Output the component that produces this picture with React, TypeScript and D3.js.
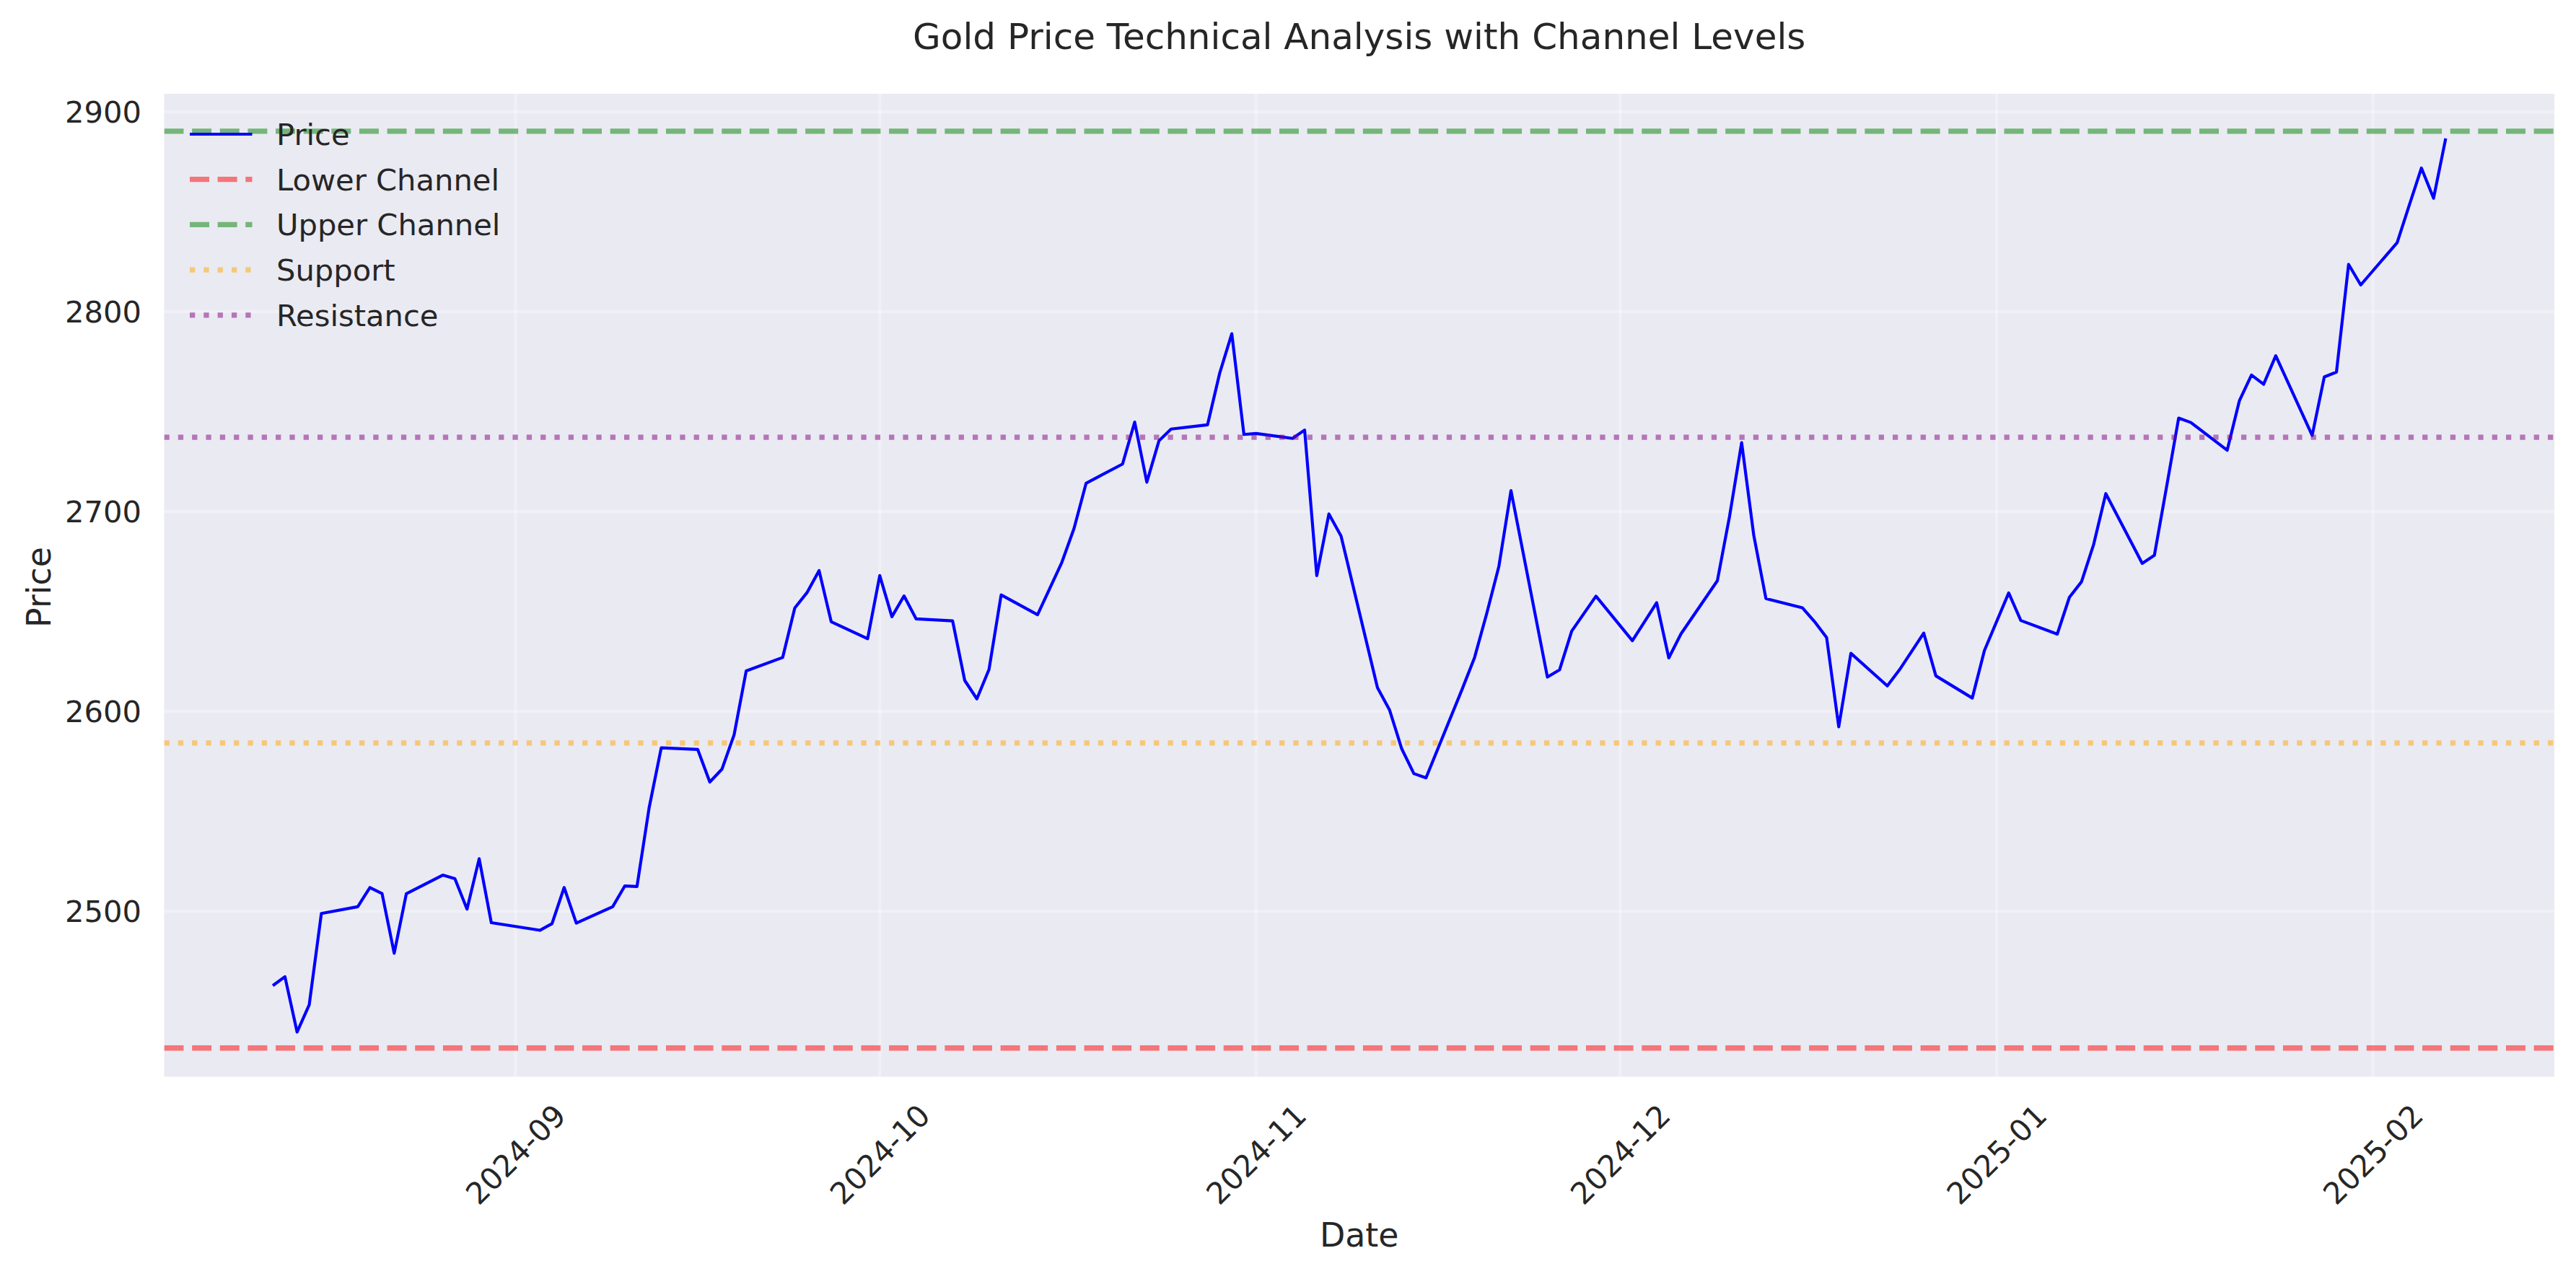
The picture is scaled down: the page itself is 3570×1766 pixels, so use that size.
import React from "react";
import * as d3 from "d3";

// trading days
const dates = [
    "2024-08-12", "2024-08-13", "2024-08-14", "2024-08-15", "2024-08-16",
    "2024-08-19", "2024-08-20", "2024-08-21", "2024-08-22", "2024-08-23",
    "2024-08-26", "2024-08-27", "2024-08-28", "2024-08-29", "2024-08-30",
    "2024-09-03", "2024-09-04", "2024-09-05", "2024-09-06",
    "2024-09-09", "2024-09-10", "2024-09-11", "2024-09-12", "2024-09-13",
    "2024-09-16", "2024-09-17", "2024-09-18", "2024-09-19", "2024-09-20",
    "2024-09-23", "2024-09-24", "2024-09-25", "2024-09-26", "2024-09-27",
    "2024-09-30", "2024-10-01", "2024-10-02", "2024-10-03", "2024-10-04",
    "2024-10-07", "2024-10-08", "2024-10-09", "2024-10-10", "2024-10-11",
    "2024-10-14", "2024-10-15", "2024-10-16", "2024-10-17", "2024-10-18",
    "2024-10-21", "2024-10-22", "2024-10-23", "2024-10-24", "2024-10-25",
    "2024-10-28", "2024-10-29", "2024-10-30", "2024-10-31", "2024-11-01",
    "2024-11-04", "2024-11-05", "2024-11-06", "2024-11-07", "2024-11-08",
    "2024-11-11", "2024-11-12", "2024-11-13", "2024-11-14", "2024-11-15",
    "2024-11-18", "2024-11-19", "2024-11-20", "2024-11-21", "2024-11-22",
    "2024-11-25", "2024-11-26", "2024-11-27", "2024-11-29",
    "2024-12-02", "2024-12-03", "2024-12-04", "2024-12-05", "2024-12-06",
    "2024-12-09", "2024-12-10", "2024-12-11", "2024-12-12", "2024-12-13",
    "2024-12-16", "2024-12-17", "2024-12-18", "2024-12-19", "2024-12-20",
    "2024-12-23", "2024-12-24", "2024-12-26", "2024-12-27",
    "2024-12-30", "2024-12-31", "2025-01-02", "2025-01-03",
    "2025-01-06", "2025-01-07", "2025-01-08", "2025-01-09", "2025-01-10",
    "2025-01-13", "2025-01-14", "2025-01-15", "2025-01-16", "2025-01-17",
    "2025-01-20", "2025-01-21", "2025-01-22", "2025-01-23", "2025-01-24",
    "2025-01-27", "2025-01-28", "2025-01-29", "2025-01-30", "2025-01-31",
    "2025-02-03", "2025-02-04", "2025-02-05", "2025-02-06", "2025-02-07",
];

const prices = [
    2462.8, 2467.3, 2439.6, 2453.2, 2498.9,
    2502.3, 2511.9, 2508.9, 2479.0, 2508.8,
    2518.1, 2516.3, 2501.1, 2526.3, 2494.3,
    2490.5, 2493.8, 2511.9, 2494.1,
    2502.3, 2512.7, 2512.4, 2551.8, 2581.8,
    2581.0, 2564.7, 2571.1, 2588.3, 2620.3,
    2627.0, 2651.8, 2659.4, 2670.5, 2644.9,
    2636.4, 2668.0, 2647.4, 2657.8, 2646.3,
    2645.3, 2615.5, 2606.3, 2621.0, 2658.3,
    2648.4, 2661.5, 2674.6, 2691.5, 2714.2,
    2723.8, 2744.8, 2714.7, 2735.4, 2741.3,
    2743.4, 2769.2, 2789.0, 2738.6, 2739.1,
    2736.6, 2740.8, 2668.0, 2698.8, 2687.8,
    2611.9, 2600.7, 2581.3, 2568.9, 2566.8,
    2611.5, 2627.0, 2649.0, 2672.5, 2710.5,
    2617.2, 2620.8, 2640.2, 2657.7,
    2635.4, 2644.9, 2654.4, 2626.8, 2638.8,
    2665.4, 2697.5, 2734.5, 2688.1, 2656.5,
    2651.9, 2645.0, 2637.0, 2592.3, 2629.1,
    2612.8, 2620.8, 2639.2, 2617.8,
    2606.7, 2630.5, 2659.3, 2645.5,
    2638.7, 2657.1, 2664.9, 2683.6, 2709.0,
    2674.1, 2678.1, 2712.2, 2746.8, 2744.6,
    2730.7, 2755.4, 2768.3, 2763.7, 2778.0,
    2738.1, 2767.4, 2769.8, 2823.7, 2813.4,
    2834.6, 2853.3, 2871.9, 2856.8, 2886.7,
];

const lowerChannel = 2431.6;
const upperChannel = 2890.3;
const support = 2584.2;
const resistance = 2737.2;

const yTicks = [2500, 2600, 2700, 2800, 2900];
const xTickMonths = ["2024-09", "2024-10", "2024-11", "2024-12", "2025-01", "2025-02"];

const W = 3570;
const H = 1766;
const plot = { left: 227.5, right: 3540, top: 130, bottom: 1492.5 };
const font = "DejaVu Sans";
const ink = "#262626";

const lw = 7.29; // 1.75pt at 300 dpi
const dashed = `${3.7 * lw} ${1.6 * lw}`;
const dotted = `${lw} ${1.65 * lw}`;

const levels = [
    { label: "Lower Channel", value: lowerChannel, color: "red", dash: dashed },
    { label: "Upper Channel", value: upperChannel, color: "green", dash: dashed },
    { label: "Support", value: support, color: "orange", dash: dotted },
    { label: "Resistance", value: resistance, color: "purple", dash: dotted },
];

type Point = { date: Date; price: number };

export default function App() {
    const parse = d3.timeParse("%Y-%m-%d");
    const data: Point[] = dates.map((d, i) => ({ date: parse(d) as Date, price: prices[i] }));

    // matplotlib-style 5% margins
    const [d0, d1] = d3.extent(data, (d) => d.date) as [Date, Date];
    const xPad = (+d1 - +d0) * 0.05;
    const x = d3
        .scaleTime()
        .domain([new Date(+d0 - xPad), new Date(+d1 + xPad)])
        .range([plot.left, plot.right]);

    const [p0, p1] = d3.extent(prices) as [number, number];
    const yPad = (p1 - p0) * 0.05;
    const y = d3.scaleLinear().domain([p0 - yPad, p1 + yPad]).range([plot.bottom, plot.top]);

    const monthParse = d3.timeParse("%Y-%m");
    const xTicks = xTickMonths.map((m) => ({ label: m, date: monthParse(m) as Date }));

    const line = d3
        .line<Point>()
        .x((d) => x(d.date))
        .y((d) => y(d.price));

    const legendItems = [
        { label: "Price", color: "blue", dash: "none", width: 4.17, opacity: 1 },
        ...levels.map((l) => ({ label: l.label, color: l.color, dash: l.dash, width: lw, opacity: 0.5 })),
    ];

    return (
        <svg
            width={W}
            height={H}
            viewBox={`0 0 ${W} ${H}`}
            style={{ position: "absolute", left: 0, top: 0, background: "white" }}
            fontFamily={font}
        >
            <defs>
                <clipPath id="plotClip">
                    <rect x={plot.left} y={plot.top} width={plot.right - plot.left} height={plot.bottom - plot.top} />
                </clipPath>
            </defs>

            <rect
                x={plot.left}
                y={plot.top}
                width={plot.right - plot.left}
                height={plot.bottom - plot.top}
                fill="#EAEAF2"
            />

            {/* grid */}
            <g stroke="white" strokeOpacity={0.3} strokeWidth={4.17}>
                {yTicks.map((t) => (
                    <line key={t} x1={plot.left} x2={plot.right} y1={y(t)} y2={y(t)} />
                ))}
                {xTicks.map((t) => (
                    <line key={t.label} x1={x(t.date)} x2={x(t.date)} y1={plot.top} y2={plot.bottom} />
                ))}
            </g>

            <g clipPath="url(#plotClip)">
                <path
                    d={line(data) || ""}
                    fill="none"
                    stroke="blue"
                    strokeWidth={4.17}
                    strokeLinejoin="round"
                />
                {levels.map((l) => (
                    <line
                        key={l.label}
                        x1={plot.left}
                        x2={plot.right}
                        y1={y(l.value)}
                        y2={y(l.value)}
                        stroke={l.color}
                        strokeOpacity={0.5}
                        strokeWidth={lw}
                        strokeDasharray={l.dash}
                    />
                ))}
            </g>

            {/* y axis */}
            {yTicks.map((t) => (
                <text
                    key={t}
                    x={196}
                    y={y(t)}
                    dy="0.36em"
                    textAnchor="end"
                    fontSize={41.67}
                    fill={ink}
                >
                    {t}
                </text>
            ))}
            <text
                transform={`translate(70, 814) rotate(-90)`}
                textAnchor="middle"
                fontSize={45.83}
                fill={ink}
            >
                Price
            </text>

            {/* x axis */}
            {xTicks.map((t) => (
                <text
                    key={t.label}
                    transform={`translate(${x(t.date)}, 1600) rotate(-45)`}
                    textAnchor="middle"
                    dy="0.36em"
                    fontSize={41.67}
                    fill={ink}
                >
                    {t.label}
                </text>
            ))}
            <text x={(plot.left + plot.right) / 2} y={1728} textAnchor="middle" fontSize={45.83} fill={ink}>
                Date
            </text>

            <text x={(plot.left + plot.right) / 2} y={68} textAnchor="middle" fontSize={50} fill={ink}>
                Gold Price Technical Analysis with Channel Levels
            </text>

            {/* legend */}
            {legendItems.map((item, i) => {
                const ly = 186 + i * 62.7;
                return (
                    <g key={item.label}>
                        <line
                            x1={263}
                            x2={349.5}
                            y1={ly}
                            y2={ly}
                            stroke={item.color}
                            strokeOpacity={item.opacity}
                            strokeWidth={item.width}
                            strokeDasharray={item.dash}
                        />
                        <text x={383} y={ly + 15} fontSize={41.67} fill={ink}>
                            {item.label}
                        </text>
                    </g>
                );
            })}
        </svg>
    );
}
